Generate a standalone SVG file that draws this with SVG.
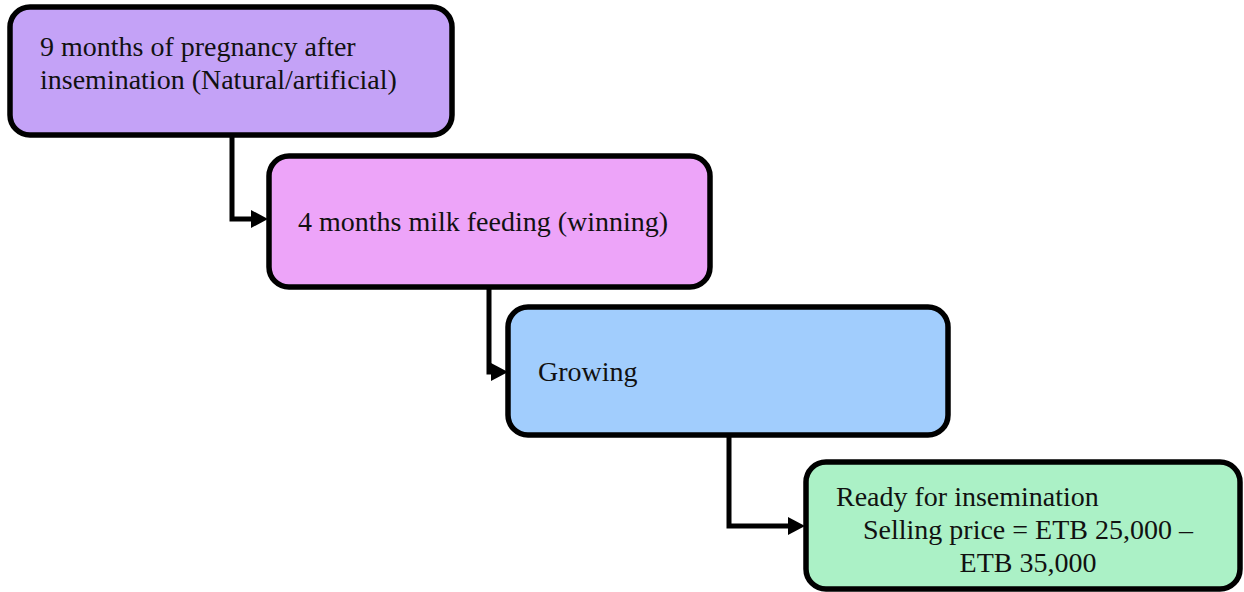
<svg xmlns="http://www.w3.org/2000/svg" width="1244" height="592" viewBox="0 0 1244 592">
<style>
.box{stroke:#000;stroke-width:5.5}
.t{font-family:"Liberation Serif","DejaVu Serif",serif;font-size:28px;fill:#111}
.c{fill:none;stroke:#000;stroke-width:5}
</style>
<defs>
<marker id="ah" markerUnits="userSpaceOnUse" markerWidth="17" markerHeight="18" viewBox="0 0 17 18" refX="0" refY="9" orient="auto">
<path d="M0 0 L17 9 L0 18 z" fill="#000"/>
</marker>
</defs>
<rect width="1244" height="592" fill="#fff"/>
<g id="n1">
<rect class="box" x="10" y="7" width="442" height="128" rx="20" fill="#C4A2F7"/>
<text class="t" x="40" y="56">9 months of pregnancy after</text>
<text class="t" x="40" y="89">insemination (Natural/artificial)</text>
</g>
<g id="n2">
<rect class="box" x="269" y="156" width="441" height="131" rx="20" fill="#EDA4F9"/>
<text class="t" x="298" y="231">4 months milk feeding (winning)</text>
</g>
<g id="n3">
<rect class="box" x="508" y="307" width="440" height="128" rx="20" fill="#A1CDFD"/>
<text class="t" x="538" y="381">Growing</text>
</g>
<g id="n4">
<rect class="box" x="806" y="462" width="434" height="127" rx="20" fill="#ABF1C6"/>
<text class="t" x="836" y="506">Ready for insemination</text>
<text class="t" x="1028" y="539" text-anchor="middle">Selling price = ETB 25,000 –</text>
<text class="t" x="1028" y="572" text-anchor="middle">ETB 35,000</text>
</g>
<g id="connectors">
<path class="c" d="M232 137 V219 H251" marker-end="url(#ah)"/>
<path class="c" d="M489 289 V372 H491" marker-end="url(#ah)"/>
<path class="c" d="M729 437 V526 H788" marker-end="url(#ah)"/>
</g>
</svg>
